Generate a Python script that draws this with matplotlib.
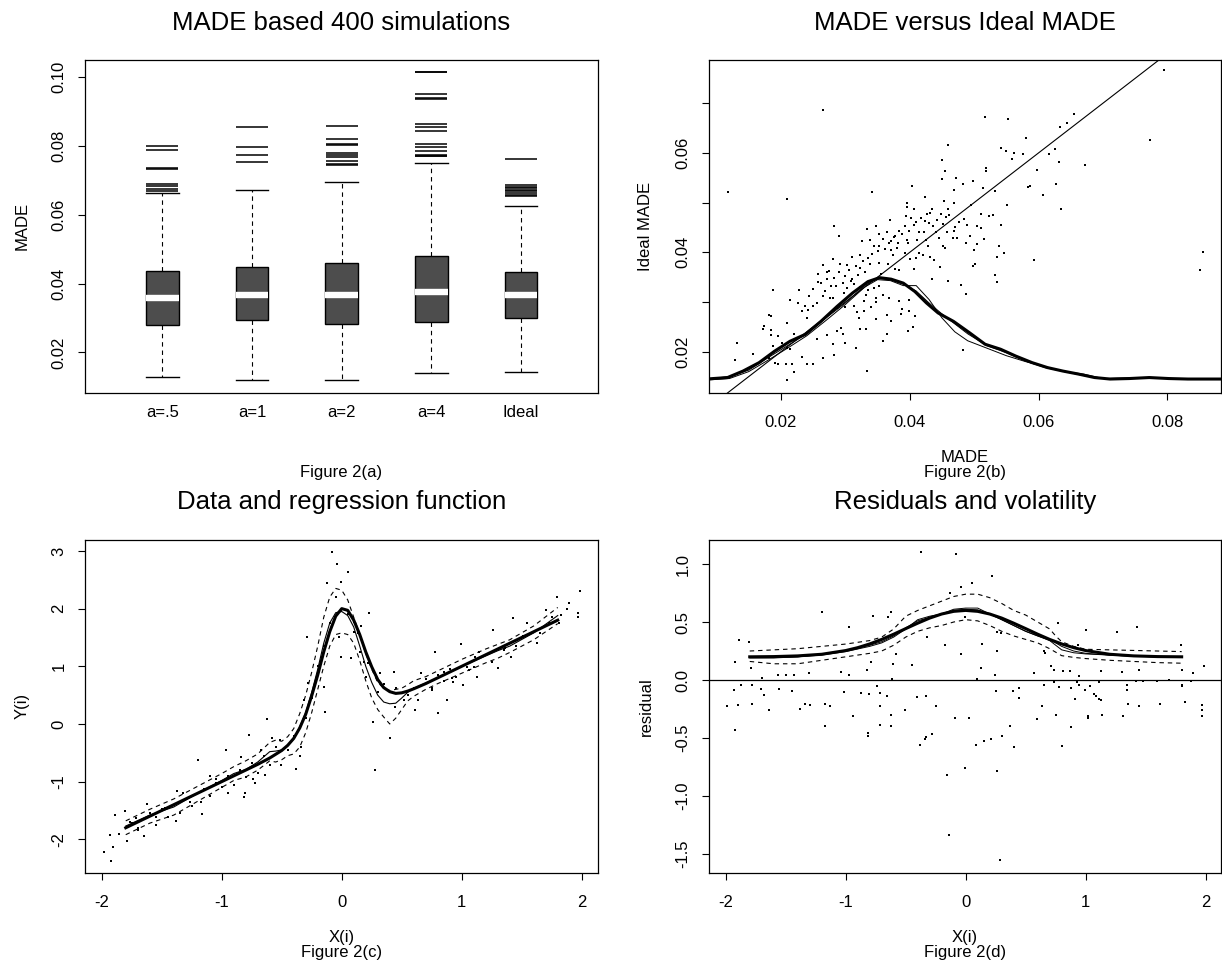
import matplotlib
matplotlib.use("Agg")
import matplotlib.pyplot as plt

plt.rcParams['font.family'] = ['Liberation Sans', 'DejaVu Sans']
plt.rcParams['axes.unicode_minus'] = False

# ---------- Figure 2(a): boxplots of MADE ----------
box_names = ["a=.5", "a=1", "a=2", "a=4", "Ideal"]
box_q1 = [0.0281, 0.0295, 0.0283, 0.0289, 0.0301]
box_med = [0.0357, 0.0367, 0.0368, 0.0375, 0.0368]
box_q3 = [0.0438, 0.0448, 0.0460, 0.0481, 0.0434]
whisk_lo = [0.0128, 0.0119, 0.0119, 0.0140, 0.0142]
whisk_hi = [0.0663, 0.0673, 0.0694, 0.0752, 0.0627]
outl_a05 = [0.0801, 0.0788, 0.0735, 0.0733, 0.0691, 0.0683, 0.0676, 0.0668]
outl_a1 = [0.0855, 0.0796, 0.0773, 0.0754]
outl_a2 = [0.0857, 0.0820, 0.0806, 0.0804, 0.0781, 0.0775, 0.0768, 0.0756, 0.0748, 0.0744]
outl_a4 = [0.1016, 0.1014, 0.0950, 0.0940, 0.0938, 0.0864, 0.0856, 0.0843,
           0.0806, 0.0798, 0.0785, 0.0774, 0.0772, 0.0770]
outl_ideal = [0.0763, 0.0686, 0.0681, 0.0677, 0.0672, 0.0668, 0.0664, 0.0659, 0.0655]

# ---------- Figure 2(b): MADE versus ideal MADE ----------
made_x = [
    0.0795, 0.0265, 0.0517, 0.0553, 0.0655, 0.0644, 0.0634, 0.0773, 0.0581, 0.0460,
    0.0541, 0.0550, 0.0559, 0.0576, 0.0562, 0.0617, 0.0626, 0.0632, 0.0672, 0.0450,
    0.0519, 0.0518, 0.0454, 0.0597, 0.0472, 0.0450, 0.0498, 0.0483, 0.0468, 0.0495,
    0.0627, 0.0583, 0.0587, 0.0514, 0.0532, 0.0403, 0.0117, 0.0209, 0.0341, 0.0607,
    0.0424, 0.0396, 0.0453, 0.0468, 0.0551, 0.0635, 0.0396, 0.0406, 0.0432, 0.0427,
    0.0435, 0.0461, 0.0456, 0.0523, 0.0530, 0.0394, 0.0402, 0.0370, 0.0423, 0.0452,
    0.0505, 0.0542, 0.0282, 0.0347, 0.0406, 0.0384, 0.0399, 0.0414, 0.0441, 0.0468,
    0.0493, 0.0515, 0.0333, 0.0364, 0.0377, 0.0353, 0.0290, 0.0467, 0.0474, 0.0326,
    0.0338, 0.0359, 0.0371, 0.0396, 0.0425, 0.0381, 0.0452, 0.0487, 0.0505, 0.0538,
    0.0344, 0.0353, 0.0362, 0.0371, 0.0455, 0.0500, 0.0856, 0.0393, 0.0420, 0.0546,
    0.0311, 0.0323, 0.0335, 0.0409, 0.0432, 0.0401, 0.0535, 0.0593, 0.0281, 0.0438,
    0.0353, 0.0338, 0.0502, 0.0291, 0.0302, 0.0265, 0.0499, 0.0447, 0.0407, 0.0377,
    0.0383, 0.0274, 0.0851, 0.0330, 0.0323, 0.0257, 0.0271, 0.0283, 0.0311, 0.0314,
    0.0532, 0.0435, 0.0460, 0.0535, 0.0262, 0.0277, 0.0296, 0.0303, 0.0249, 0.0323,
    0.0335, 0.0353, 0.0479, 0.0228, 0.0188, 0.0244, 0.0265, 0.0281, 0.0487, 0.0214,
    0.0226, 0.0256, 0.0296, 0.0329, 0.0347, 0.0383, 0.0399, 0.0347, 0.0359, 0.0368,
    0.0314, 0.0287, 0.0238, 0.0233, 0.0388, 0.0399, 0.0408, 0.0386, 0.0329, 0.0181,
    0.0185, 0.0241, 0.0347, 0.0364, 0.0371, 0.0321, 0.0173, 0.0172, 0.0210, 0.0185,
    0.0293, 0.0405, 0.0397, 0.0323, 0.0332, 0.0287, 0.0220, 0.0184, 0.0196, 0.0365,
    0.0297, 0.0271, 0.0256, 0.0132, 0.0359, 0.0281, 0.0299, 0.0202, 0.0187, 0.0210,
    0.0214, 0.0317, 0.0191, 0.0483, 0.0156, 0.0282, 0.0129, 0.0232, 0.0181, 0.0265,
    0.0190, 0.0195, 0.0208, 0.0217, 0.0241, 0.0250, 0.0220, 0.0333, 0.0210,
    0.0290, 0.0300, 0.0305, 0.0316, 0.0328, 0.0342, 0.0350, 0.0367, 0.0375, 0.0388,
    0.0392, 0.0410, 0.0418, 0.0430, 0.0442, 0.0448, 0.0460, 0.0476, 0.0489, 0.0510,
    0.0298, 0.0308, 0.0320, 0.0332, 0.0345, 0.0356, 0.0366, 0.0374, 0.0380, 0.0398,
    0.0268, 0.0276, 0.0285, 0.0250, 0.0242, 0.0258, 0.0272, 0.0300, 0.0318, 0.0340,
    0.0412, 0.0422, 0.0436, 0.0415, 0.0428, 0.0446, 0.0458, 0.0470, 0.0485, 0.0510,
]
ideal_y = [
    0.0766, 0.0686, 0.0672, 0.0668, 0.0678, 0.0661, 0.0652, 0.0626, 0.0630, 0.0615,
    0.0609, 0.0604, 0.0587, 0.0597, 0.0600, 0.0597, 0.0607, 0.0581, 0.0576, 0.0586,
    0.0570, 0.0564, 0.0564, 0.0566, 0.0550, 0.0547, 0.0543, 0.0538, 0.0526, 0.0496,
    0.0538, 0.0531, 0.0533, 0.0529, 0.0524, 0.0533, 0.0521, 0.0508, 0.0521, 0.0515,
    0.0511, 0.0500, 0.0503, 0.0500, 0.0496, 0.0488, 0.0491, 0.0487, 0.0480, 0.0477,
    0.0488, 0.0475, 0.0472, 0.0473, 0.0475, 0.0473, 0.0469, 0.0466, 0.0464, 0.0456,
    0.0453, 0.0455, 0.0453, 0.0453, 0.0455, 0.0443, 0.0443, 0.0440, 0.0441, 0.0443,
    0.0433, 0.0426, 0.0446, 0.0441, 0.0433, 0.0436, 0.0433, 0.0428, 0.0428, 0.0423,
    0.0424, 0.0426, 0.0423, 0.0424, 0.0424, 0.0419, 0.0412, 0.0419, 0.0417, 0.0412,
    0.0412, 0.0412, 0.0407, 0.0405, 0.0409, 0.0405, 0.0400, 0.0399, 0.0395, 0.0398,
    0.0391, 0.0395, 0.0389, 0.0389, 0.0390, 0.0386, 0.0391, 0.0384, 0.0386, 0.0384,
    0.0379, 0.0376, 0.0376, 0.0376, 0.0374, 0.0374, 0.0372, 0.0371, 0.0367, 0.0366,
    0.0364, 0.0362, 0.0364, 0.0360, 0.0369, 0.0356, 0.0346, 0.0349, 0.0346, 0.0336,
    0.0354, 0.0346, 0.0342, 0.0340, 0.0339, 0.0332, 0.0339, 0.0329, 0.0327, 0.0330,
    0.0324, 0.0332, 0.0334, 0.0324, 0.0324, 0.0312, 0.0312, 0.0309, 0.0317, 0.0305,
    0.0298, 0.0298, 0.0302, 0.0302, 0.0300, 0.0302, 0.0305, 0.0309, 0.0315, 0.0309,
    0.0292, 0.0288, 0.0292, 0.0282, 0.0285, 0.0282, 0.0272, 0.0275, 0.0282, 0.0274,
    0.0272, 0.0268, 0.0266, 0.0273, 0.0262, 0.0268, 0.0252, 0.0246, 0.0257, 0.0243,
    0.0248, 0.0250, 0.0242, 0.0245, 0.0246, 0.0242, 0.0236, 0.0233, 0.0232, 0.0235,
    0.0235, 0.0233, 0.0225, 0.0217, 0.0221, 0.0215, 0.0218, 0.0218, 0.0211, 0.0208,
    0.0206, 0.0208, 0.0201, 0.0203, 0.0195, 0.0193, 0.0183, 0.0190, 0.0188, 0.0188,
    0.0178, 0.0175, 0.0175, 0.0175, 0.0175, 0.0175, 0.0159, 0.0161, 0.0143,
    0.0360, 0.0352, 0.0365, 0.0372, 0.0383, 0.0396, 0.0402, 0.0418, 0.0430, 0.0436,
    0.0452, 0.0462, 0.0470, 0.0458, 0.0465, 0.0478, 0.0488, 0.0462, 0.0455, 0.0448,
    0.0318, 0.0342, 0.0355, 0.0314, 0.0328, 0.0356, 0.0377, 0.0395, 0.0408, 0.0418,
    0.0322, 0.0308, 0.0332, 0.0292, 0.0284, 0.0340, 0.0360, 0.0290, 0.0280, 0.0290,
    0.0425, 0.0440, 0.0452, 0.0398, 0.0412, 0.0428, 0.0440, 0.0450, 0.0468, 0.0478,
]
dens_x = [0.0084, 0.0117, 0.0141, 0.0166, 0.0190, 0.0214, 0.0238, 0.0262, 0.0287, 0.0311,
          0.0335, 0.0353, 0.0371, 0.0390, 0.0408, 0.0426, 0.0444, 0.0468, 0.0493, 0.0517,
          0.0541, 0.0565, 0.0590, 0.0614, 0.0638, 0.0662, 0.0687, 0.0711, 0.0741, 0.0772,
          0.0802, 0.0832, 0.0885]
dens_true = [0.0145, 0.0148, 0.0161, 0.0178, 0.0201, 0.0221, 0.0235, 0.0261, 0.0291, 0.0318,
             0.0341, 0.0349, 0.0346, 0.0338, 0.0321, 0.0298, 0.0278, 0.0261, 0.0238, 0.0215,
             0.0205, 0.0191, 0.0178, 0.0168, 0.0161, 0.0155, 0.0148, 0.0145, 0.0146, 0.0148,
             0.0146, 0.0145, 0.0145]
est_x = [0.0085, 0.012, 0.015, 0.018, 0.021, 0.024, 0.027, 0.030, 0.033, 0.035,
         0.037, 0.039, 0.041, 0.043, 0.045, 0.047, 0.049, 0.052, 0.055, 0.058,
         0.061, 0.064, 0.067, 0.070, 0.075, 0.080, 0.085, 0.0885]
dens_est1 = [0.0143, 0.0146, 0.0160, 0.0183, 0.0207, 0.0232, 0.0263, 0.0295, 0.0330, 0.0345,
             0.0343, 0.0333, 0.0333, 0.0305, 0.0268, 0.0240, 0.0222, 0.0207, 0.0192, 0.0180,
             0.0170, 0.0160, 0.0152, 0.0146, 0.0147, 0.0146, 0.0145, 0.0145]
dens_est2 = [0.0145, 0.0150, 0.0163, 0.0188, 0.0212, 0.0236, 0.0268, 0.0298, 0.0333, 0.0348,
             0.0345, 0.0336, 0.0322, 0.0298, 0.0276, 0.0256, 0.0236, 0.0212, 0.0198, 0.0181,
             0.0168, 0.0160, 0.0155, 0.0146, 0.0147, 0.0146, 0.0145, 0.0145]
diag = [0.0, 0.1]

# ---------- Figure 2(c): data and regression function ----------
xc = [
    -1.985, -1.919, -1.929, -1.893, -1.903, -1.860, -1.807, -1.787, -1.761, -1.718,
    -1.645, -1.622, -1.694, -1.546, -1.470, -1.374, -1.381, -1.325, -1.265, -1.199,
    -1.173, -1.166, -1.100, -1.050, -0.968, -0.951, -0.842, -0.813, -0.806, -0.770,
    -0.737, -0.720, -0.671, -0.621, -0.637, -0.578, -0.515, -0.505, -0.380, -0.340,
    -0.291, -0.314, -0.281, -0.241, -0.208, -0.142, -0.149, -0.126, -0.083, -0.043,
    -0.026, -0.010, -0.003, 0.050, 0.073, 0.106, 0.139, 0.162, 0.182, 0.205,
    0.228, 0.261, 0.281, 0.320, 0.403, 0.436, 0.446, 0.519, 0.611, 0.634,
    0.657, 0.750, 0.776, 0.799, 0.849, 0.875, 0.915, 0.931, 0.991, 1.014,
    1.047, 1.064, 1.113, 1.130, 1.146, 1.262, 1.305, 1.361, 1.410, 1.427,
    1.510, 1.543, 1.625, 1.701, 1.724, 1.790, 1.823, 1.879, 1.893, 1.965,
    1.972, 1.988, 1.807,
    -1.75, -1.70, -1.60, -1.55, -1.50, -1.45, -1.40, -1.35, -1.30, -1.25,
    -1.15, -1.10, -1.05, -1.00, -0.95, -0.90, -0.85, -0.80, -0.75, -0.70,
    -0.65, -0.60, -0.55, -0.45, -0.40, -0.35, -0.30, -0.25, -0.20, -0.15,
    -0.10, -0.05, 0.05, 0.10, 0.15, 0.22, 0.30, 0.35, 0.45, 0.55,
    0.60, 0.70, 0.75, 0.80, 0.85, 0.90, 0.95, 1.05, 1.10, 1.20,
    1.25, 1.35, 1.45, 1.55, 1.65, 1.75,
]
yc = [
    -2.214, -2.370, -1.925, -1.572, -2.127, -1.913, -1.503, -2.023, -1.694, -1.636,
    -1.936, -1.387, -1.838, -1.607, -1.462, -1.162, -1.682, -1.202, -1.347, -0.624,
    -1.358, -1.561, -0.902, -1.029, -0.451, -1.202, -0.566, -1.260, -1.202, -0.191,
    -0.960, -1.029, -0.451, 0.081, -0.884, -0.249, -0.277, -0.711, -0.786, -0.393,
    1.514, 0.416, 0.705, 0.590, 0.821, 0.214, 0.647, 2.439, 2.988, 2.775,
    1.514, 2.468, 1.168, 2.642, 1.139, 1.775, 1.572, 1.699, 1.081, 0.821,
    1.919, 0.040, -0.798, 0.879, -0.249, 0.908, 0.301, 0.416, 0.243, 0.416,
    0.879, 0.590, 1.254, 0.197, 0.908, 0.416, 0.792, 0.734, 1.387, 0.676,
    0.994, 0.936, 1.168, 0.821, 1.254, 1.630, 0.965, 1.312, 1.168, 1.832,
    1.526, 1.746, 1.399, 1.977, 1.746, 2.197, 1.890, 1.994, 2.092, 1.919,
    1.861, 2.312, 1.746,
    -1.72, -1.80, -1.55, -1.75, -1.48, -1.62, -1.40, -1.55, -1.30, -1.42,
    -1.12, -1.25, -0.95, -1.10, -0.90, -1.05, -0.80, -0.92, -0.68, -0.85,
    -0.55, -0.72, -0.40, -0.45, -0.20, -0.55, 0.10, 0.45, 1.00, 1.35,
    1.75, 2.20, 1.90, 1.60, 1.25, 1.05, 0.55, 0.70, 0.62, 0.50,
    0.62, 0.78, 0.62, 0.85, 0.75, 0.95, 0.82, 1.05, 0.98, 1.20,
    1.08, 1.28, 1.35, 1.55, 1.58, 1.85,
]
reg_x = [-1.8, -1.6, -1.4, -1.2, -1.0, -0.8, -0.7, -0.6, -0.5, -0.45,
         -0.4, -0.35, -0.3, -0.25, -0.2, -0.15, -0.1, -0.05, 0.0, 0.05,
         0.1, 0.15, 0.2, 0.25, 0.3, 0.35, 0.4, 0.45, 0.5, 0.55,
         0.6, 0.7, 0.8, 1.0, 1.2, 1.4, 1.6, 1.8]
reg_true = [-1.80, -1.60, -1.40, -1.20, -1.00, -0.80, -0.70, -0.59, -0.46, -0.37,
            -0.25, -0.07, 0.17, 0.49, 0.85, 1.25, 1.60, 1.87, 2.00, 1.97,
            1.80, 1.55, 1.25, 0.99, 0.77, 0.63, 0.56, 0.53, 0.54, 0.57,
            0.61, 0.70, 0.80, 1.00, 1.20, 1.40, 1.60, 1.80]
fit_x = [-1.8, -1.6, -1.4, -1.2, -1.0, -0.9, -0.8, -0.7, -0.6, -0.55,
         -0.5, -0.45, -0.4, -0.35, -0.3, -0.25, -0.2, -0.15, -0.1, -0.05,
         0.0, 0.05, 0.1, 0.15, 0.2, 0.25, 0.3, 0.35, 0.4, 0.45,
         0.5, 0.55, 0.6, 0.7, 0.8, 1.0, 1.2, 1.3, 1.4, 1.6, 1.8]
reg_fit = [-1.77, -1.58, -1.44, -1.20, -0.98, -0.86, -0.79, -0.66, -0.48, -0.47,
           -0.45, -0.38, -0.26, -0.05, 0.20, 0.55, 0.95, 1.40, 1.75, 1.93,
           1.95, 1.88, 1.68, 1.35, 1.00, 0.72, 0.50, 0.38, 0.35, 0.36,
           0.45, 0.55, 0.62, 0.71, 0.80, 1.00, 1.18, 1.27, 1.35, 1.58, 1.88]
reg_upper = [-1.68, -1.48, -1.30, -1.08, -0.86, -0.74, -0.64, -0.52, -0.32, -0.28,
             -0.30, -0.22, -0.08, 0.18, 0.50, 0.90, 1.35, 1.85, 2.20, 2.35,
             2.32, 2.15, 1.85, 1.55, 1.22, 0.95, 0.72, 0.62, 0.58, 0.60,
             0.62, 0.68, 0.75, 0.82, 0.92, 1.12, 1.30, 1.38, 1.46, 1.70, 2.02]
reg_lower = [-1.92, -1.72, -1.58, -1.34, -1.10, -0.98, -0.92, -0.80, -0.64, -0.66,
             -0.62, -0.55, -0.52, -0.40, -0.15, 0.20, 0.60, 1.00, 1.35, 1.55,
             1.58, 1.55, 1.40, 1.10, 0.75, 0.45, 0.25, 0.12, 0.00, 0.10,
             0.25, 0.40, 0.48, 0.60, 0.70, 0.88, 1.06, 1.14, 1.24, 1.46, 1.74]

# ---------- Figure 2(d): residuals and volatility ----------
xd = [
    -0.375, -0.082, 0.222, 0.049, -0.039, -0.130, -1.196, -0.619, -0.776, -0.645,
    -0.007, -0.971, 0.773, 1.428, 1.262, 1.001, -1.891, -1.809, -0.326, 0.261,
    0.293, -0.170, 0.140, 0.936, 1.793, 0.652, 0.662, 0.261, -0.577, -0.039,
    -1.923, -1.793, -0.792, -0.606, -0.450, 0.707, 0.733, 0.808, 0.870, 1.125,
    1.304, 1.803, 1.989, 1.891, -1.043, -0.971, -1.565, -1.500, -1.434, -1.304,
    -1.695, -0.822, 0.124, 0.245, 0.571, 0.945, 1.441, -0.613, 0.098, 1.418,
    1.477, 1.597, 1.695, 1.874,
    -1.874, -1.777, -1.930, -1.705, -1.679, -1.558, -1.444, -1.989, -1.897, -1.777,
    -1.643, -1.379, -1.343, -1.294, -1.923, -1.174, -1.135, -1.174, -1.011, -0.870,
    -0.805, -0.936, -0.815, -0.815, -0.740, -0.711, -0.711, -0.659, -0.717, -0.619,
    -0.619, -0.505, -0.407, -0.332, -0.245, -0.381, -0.332, -0.284, -0.342, -0.091,
    0.026, -0.153, -0.007, -0.137, 0.082, 0.156, 0.212, 0.303, 0.368, 0.401,
    0.261, 0.284, 0.254, 0.391, 0.447, 0.447, 0.636, 0.597, 0.652, 0.740,
    0.750, 0.776, 0.799, 0.874, 0.880, 0.913, 0.929, 0.945, 0.994, 1.017,
    1.017, 1.037, 1.066, 1.082, 1.108, 1.131, 1.134, 1.108, 1.314, 1.343,
    1.346, 1.353, 1.444, 1.623, 1.803, 1.799, 1.826, 1.966, 1.966, 1.972,
]
yd = [
    1.106, 1.083, 0.897, 0.834, 0.799, 0.754, 0.590, 0.590, 0.556, 0.542,
    0.547, 0.461, 0.490, 0.461, 0.418, 0.433, 0.347, 0.332, 0.375, 0.418,
    0.404, 0.298, 0.312, 0.298, 0.298, 0.246, 0.232, 0.252, 0.223, 0.223,
    0.152, 0.103, 0.152, 0.138, 0.126, 0.117, 0.089, 0.080, 0.080, 0.074,
    0.066, 0.083, 0.117, 0.060, 0.066, 0.046, 0.046, 0.046, 0.046, 0.060,
    0.017, 0.083, 0.103, 0.040, 0.060, 0.037, 0.086, 0.009, 0.009, -0.011,
    -0.011, -0.011, 0.003, -0.011,
    -0.046, -0.040, -0.083, -0.074, -0.132, -0.074, -0.097, -0.226, -0.212, -0.203,
    -0.255, -0.246, -0.203, -0.212, -0.433, -0.203, -0.221, -0.393, -0.100, -0.112,
    -0.117, -0.312, -0.456, -0.479, -0.054, -0.112, -0.221, -0.135, -0.384, -0.298,
    -0.398, -0.261, -0.146, -0.135, -0.226, -0.562, -0.490, -0.464, -0.507, -0.330,
    -0.324, -0.822, -0.759, -1.338, -0.559, -0.524, -0.507, -0.479, -0.398, -0.579,
    -0.785, -1.550, -0.092, -0.097, -0.072, -0.152, -0.226, -0.332, -0.046, -0.020,
    -0.298, -0.060, -0.570, -0.407, -0.069, -0.163, -0.020, -0.040, -0.083, -0.307,
    -0.327, -0.054, -0.117, -0.140, -0.160, -0.175, -0.298, -0.020, -0.312, -0.040,
    -0.083, -0.206, -0.226, -0.209, -0.040, -0.054, -0.192, -0.218, -0.255, -0.307,
]
vol_x = [-1.8, -1.6, -1.4, -1.2, -1.0, -0.9, -0.8, -0.7, -0.6, -0.5, -0.4, -0.3, -0.2, -0.1,
         0.0, 0.1, 0.2, 0.3, 0.4, 0.5, 0.6, 0.7, 0.8, 0.9, 1.0, 1.2, 1.4, 1.6, 1.8]
vol_true = [0.200, 0.202, 0.208, 0.222, 0.254, 0.279, 0.311, 0.350, 0.395, 0.443, 0.490, 0.534,
            0.569, 0.592, 0.600, 0.592, 0.569, 0.534, 0.490, 0.443, 0.395, 0.350, 0.311, 0.279,
            0.254, 0.222, 0.208, 0.202, 0.200]
vfit_x = [-1.8, -1.6, -1.4, -1.2, -1.0, -0.8, -0.7, -0.6, -0.5, -0.4, -0.3, -0.2, -0.1, 0.0,
          0.1, 0.2, 0.3, 0.4, 0.5, 0.6, 0.7, 0.75, 0.8, 0.9, 1.0, 1.2, 1.4, 1.6, 1.8]
vol_fit1 = [0.19, 0.19, 0.20, 0.22, 0.25, 0.30, 0.33, 0.38, 0.45, 0.51, 0.54, 0.57, 0.61, 0.62,
            0.62, 0.57, 0.52, 0.47, 0.42, 0.38, 0.34, 0.30, 0.26, 0.235, 0.225, 0.215, 0.205,
            0.20, 0.195]
vol_fit2 = [0.195, 0.195, 0.20, 0.215, 0.245, 0.29, 0.32, 0.37, 0.44, 0.52, 0.55, 0.57, 0.60,
            0.61, 0.605, 0.57, 0.52, 0.47, 0.42, 0.38, 0.345, 0.32, 0.29, 0.25, 0.23, 0.215,
            0.205, 0.20, 0.20]
vol_upper = [0.25, 0.26, 0.27, 0.29, 0.31, 0.34, 0.37, 0.44, 0.55, 0.60, 0.64, 0.68, 0.72, 0.74,
             0.74, 0.71, 0.66, 0.60, 0.56, 0.50, 0.44, 0.38, 0.33, 0.29, 0.265, 0.26, 0.255,
             0.25, 0.245]
vol_lower = [0.16, 0.14, 0.14, 0.17, 0.20, 0.23, 0.25, 0.30, 0.37, 0.42, 0.45, 0.47, 0.50, 0.52,
             0.51, 0.47, 0.42, 0.38, 0.35, 0.32, 0.27, 0.24, 0.21, 0.195, 0.185, 0.17, 0.16,
             0.15, 0.145]

# ---------- layout (pixel boxes of the four panels) ----------
W, H = 1222.0, 963.0
fig = plt.figure(figsize=(W / 100, H / 100), dpi=100)


def add_panel(left, top, right, bottom):
    return fig.add_axes([left / W, 1 - bottom / H, (right - left) / W, (bottom - top) / H])


ax_a = add_panel(85.3, 60, 597.7, 392.7)
ax_b = add_panel(709, 60, 1221, 392.7)
ax_c = add_panel(85.3, 540, 597.7, 872.7)
ax_d = add_panel(709.3, 540, 1221, 872.7)

dash = (0, (4, 3.5))
dot_kw = dict(linestyle='none', marker='s', markersize=1.5, markeredgewidth=0, color='black')


def r_style(ax, title, xlab, ylab, figlab, xpad=11.4, xlen=5):
    for s in ax.spines.values():
        s.set_linewidth(0.9)
    ax.tick_params(axis='both', direction='out', width=0.8, labelsize=12, colors='black')
    ax.tick_params(axis='x', length=xlen, pad=xpad)
    ax.tick_params(axis='y', length=5, pad=8.7, labelrotation=90)
    plt.setp(ax.get_yticklabels(), va='center')
    hpx = 332.7
    wpx = ax.get_position().width * W
    ax.text(0.5, 1 + 30.5 / hpx, title, transform=ax.transAxes, ha='center',
            va='baseline', fontsize=18.5)
    if xlab:
        ax.text(0.5, -69 / hpx, xlab, transform=ax.transAxes, ha='center',
                va='baseline', fontsize=12)
    ax.text(0.5, -84 / hpx, figlab, transform=ax.transAxes, ha='center',
            va='baseline', fontsize=12)
    ax.text(-63 / wpx, 0.5, ylab, transform=ax.transAxes, ha='center', va='center',
            rotation=90, fontsize=12)


# ---- (a)
stats = []
for i, name in enumerate(box_names):
    stats.append(dict(label=name, q1=box_q1[i], med=box_med[i], q3=box_q3[i],
                      whislo=whisk_lo[i], whishi=whisk_hi[i],
                      fliers=[outl_a05, outl_a1, outl_a2, outl_a4, outl_ideal][i]))
pos = [1, 2, 3, 4, 5]
ax_a.bxp(stats, positions=pos, widths=0.364, capwidths=0.364, patch_artist=True,
         boxprops=dict(facecolor='#4d4d4d', edgecolor='black', linewidth=1.0),
         medianprops=dict(color='white', linewidth=4.6, solid_capstyle='butt'),
         whiskerprops=dict(color='black', linestyle=dash, linewidth=0.8),
         capprops=dict(color='black', linewidth=1.0),
         flierprops=dict(marker='_', markersize=23.5, markeredgewidth=1.1,
                         markeredgecolor='black'))
ax_a.set_xlim(0.142, 5.855)
ax_a.set_ylim(0.0083, 0.1050)
ax_a.set_yticks([0.02, 0.04, 0.06, 0.08, 0.10])
ax_a.set_yticklabels(["0.02", "0.04", "0.06", "0.08", "0.10"])
ax_a.set_xticks(pos)
ax_a.set_xticklabels(box_names)
r_style(ax_a, "MADE based 400 simulations", None, "MADE", "Figure 2(a)", xpad=8.5, xlen=0)

# ---- (b)
ax_b.plot(made_x, ideal_y, **dot_kw)
ax_b.plot(diag, diag, color='black', linewidth=0.8)
ax_b.plot(est_x, dens_est1, color='black', linewidth=0.7)
ax_b.plot(est_x, dens_est2, color='black', linewidth=0.7)
ax_b.plot(dens_x, dens_true, color='black', linewidth=2.2)
ax_b.set_xlim(0.00882, 0.08834)
ax_b.set_ylim(0.01175, 0.0787)
ax_b.set_xticks([0.02, 0.04, 0.06, 0.08])
ax_b.set_xticklabels(["0.02", "0.04", "0.06", "0.08"])
ax_b.set_yticks([0.02, 0.03, 0.04, 0.05, 0.06, 0.07])
ax_b.set_yticklabels(["0.02", "", "0.04", "", "0.06", ""])
r_style(ax_b, "MADE versus Ideal MADE", "MADE", "Ideal MADE", "Figure 2(b)")

# ---- (c)
ax_c.plot(xc, yc, **dot_kw)
ax_c.plot(fit_x, reg_upper, color='black', linewidth=0.8, linestyle=dash)
ax_c.plot(fit_x, reg_lower, color='black', linewidth=0.8, linestyle=dash)
ax_c.plot(fit_x, reg_fit, color='black', linewidth=0.8)
ax_c.plot(reg_x, reg_true, color='black', linewidth=2.2)
ax_c.set_xlim(-2.137, 2.133)
ax_c.set_ylim(-2.579, 3.19)
ax_c.set_xticks([-2, -1, 0, 1, 2])
ax_c.set_xticklabels(["-2", "-1", "0", "1", "2"])
ax_c.set_yticks([-2, -1, 0, 1, 2, 3])
ax_c.set_yticklabels(["-2", "-1", "0", "1", "2", "3"])
r_style(ax_c, "Data and regression function", "X(i)", "Y(i)", "Figure 2(c)")

# ---- (d)
ax_d.plot(xd, yd, **dot_kw)
ax_d.axhline(0, color='black', linewidth=0.9)
ax_d.plot(vfit_x, vol_upper, color='black', linewidth=0.8, linestyle=dash)
ax_d.plot(vfit_x, vol_lower, color='black', linewidth=0.8, linestyle=dash)
ax_d.plot(vfit_x, vol_fit1, color='black', linewidth=0.7)
ax_d.plot(vfit_x, vol_fit2, color='black', linewidth=0.7)
ax_d.plot(vol_x, vol_true, color='black', linewidth=2.2)
ax_d.set_xlim(-2.137, 2.128)
ax_d.set_ylim(-1.661, 1.207)
ax_d.set_xticks([-2, -1, 0, 1, 2])
ax_d.set_xticklabels(["-2", "-1", "0", "1", "2"])
ax_d.set_yticks([-1.5, -1.0, -0.5, 0.0, 0.5, 1.0])
ax_d.set_yticklabels(["-1.5", "-1.0", "-0.5", "0.0", "0.5", "1.0"])
r_style(ax_d, "Residuals and volatility", "X(i)", "residual", "Figure 2(d)")

fig.savefig("out.png", dpi=100)
